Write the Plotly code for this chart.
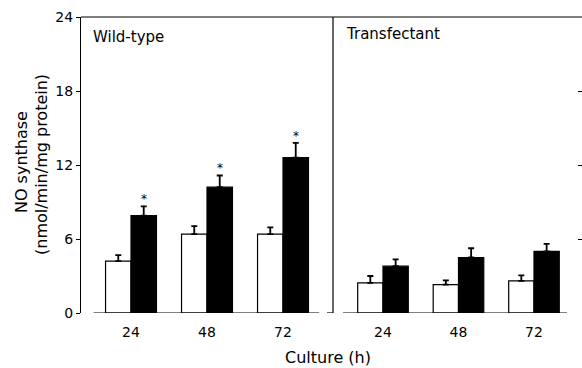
import plotly.graph_objects as go

# Culture time points (h) and NO synthase activity (nmol/min/mg protein)
hours = ["24", "48", "72"]
wt_control = [4.2, 6.4, 6.4]
wt_control_err = [0.5, 0.65, 0.55]
wt_treated = [7.9, 10.2, 12.6]
wt_treated_err = [0.75, 0.95, 1.2]
tf_control = [2.45, 2.3, 2.6]
tf_control_err = [0.55, 0.35, 0.45]
tf_treated = [3.8, 4.5, 5.0]
tf_treated_err = [0.55, 0.75, 0.6]
y_ticks = [0, 6, 12, 18, 24]

FONT = "DejaVu Sans"
pos = list(range(len(hours)))

fig = go.Figure()


def add_pair(ctrl, ctrl_err, trt, trt_err, xa):
    fig.add_trace(go.Bar(
        x=pos, y=ctrl, xaxis=xa, yaxis="y",
        marker=dict(color="white", line=dict(color="black", width=1.2)),
        error_y=dict(type="data", symmetric=False, array=ctrl_err,
                     arrayminus=[0] * len(ctrl), color="black",
                     thickness=1.8, width=3),
        showlegend=False,
    ))
    fig.add_trace(go.Bar(
        x=pos, y=trt, xaxis=xa, yaxis="y",
        marker=dict(color="black", line=dict(color="black", width=1.2)),
        error_y=dict(type="data", symmetric=False, array=trt_err,
                     arrayminus=[0] * len(trt), color="black",
                     thickness=1.8, width=3),
        showlegend=False,
    ))


add_pair(wt_control, wt_control_err, wt_treated, wt_treated_err, "x")
add_pair(tf_control, tf_control_err, tf_treated, tf_treated_err, "x2")

split = 0.503
common_x = dict(
    tickmode="array", tickvals=pos, ticktext=hours,
    showline=False, showgrid=False, zeroline=False, ticks="",
    ticklabelstandoff=9,
    tickfont=dict(family=FONT, size=14, color="black"),
    fixedrange=True,
)
fig.update_layout(
    width=582, height=368,
    margin=dict(l=81, r=0, t=17, b=55),
    paper_bgcolor="white", plot_bgcolor="white",
    barmode="group", bargap=0.33, bargroupgap=0.0,
    font=dict(family=FONT, color="black"),
    xaxis=dict(domain=[0, split], range=[-0.658, 2.658], anchor="y", **common_x),
    xaxis2=dict(domain=[split, 1], range=[-0.662, 2.636], anchor="y", **common_x),
    yaxis=dict(
        range=[0, 24], tickvals=y_ticks, ticks="outside", ticklen=4,
        tickwidth=1.2, tickcolor="black", showline=True, linecolor="black",
        linewidth=1.2, showgrid=False, zeroline=False,
        tickfont=dict(family=FONT, size=14, color="black"), fixedrange=True,
    ),
    yaxis2=dict(
        range=[0, 24], tickvals=y_ticks, ticks="inside", ticklen=4,
        tickwidth=1.2, tickcolor="black", showline=False, showgrid=False,
        zeroline=False, showticklabels=False, overlaying="y", side="right",
        anchor="free", position=1.0, fixedrange=True,
    ),
)
# empty trace so the right-hand tick axis is drawn
fig.add_trace(go.Scatter(x=[None], y=[None], xaxis="x2", yaxis="y2",
                         showlegend=False, hoverinfo="skip"))

# frame: top edge, divider between panels, broken baselines
line = dict(color="black", width=1.2)
fig.add_shape(type="line", xref="paper", yref="paper", x0=0, x1=1, y0=1, y1=1, line=line)
fig.add_shape(type="line", xref="paper", yref="paper", x0=split, x1=split, y0=0, y1=1, line=line)
fig.add_shape(type="line", xref="x domain", yref="y", x0=0.05, x1=0.945, y0=0, y1=0, line=line)
fig.add_shape(type="line", xref="x domain", yref="y", x0=0.976, x1=1.0, y0=0, y1=0, line=line)
fig.add_shape(type="line", xref="x2 domain", yref="y", x0=0.04, x1=0.94, y0=0, y1=0, line=line)

# significance markers above treated wild-type bars
for i, (v, e) in enumerate(zip(wt_treated, wt_treated_err)):
    fig.add_annotation(x=i + 0.168, y=v + e, xref="x", yref="y", text="*",
                       showarrow=False, yanchor="bottom", yshift=-2,
                       font=dict(family=FONT, size=12, color="black"))

ann_font = dict(family=FONT, size=15, color="black")
fig.add_annotation(x=0.02, y=0.932, xref="paper", yref="paper", text="Wild-type",
                   showarrow=False, xanchor="left", yanchor="middle", font=ann_font)
fig.add_annotation(x=0.525, y=0.941, xref="paper", yref="paper", text="Transfectant",
                   showarrow=False, xanchor="left", yanchor="middle", font=ann_font)
fig.add_annotation(x=0.493, y=-0.152, xref="paper", yref="paper", text="Culture (h)",
                   showarrow=False, xanchor="center", yanchor="middle",
                   font=dict(family=FONT, size=16, color="black"))
fig.add_annotation(x=-60 / 501, y=0.51, xref="paper", yref="paper", text="NO synthase",
                   textangle=-90, showarrow=False, xanchor="center", yanchor="middle",
                   font=dict(family=FONT, size=16, color="black"))
fig.add_annotation(x=-40 / 501, y=0.5, xref="paper", yref="paper",
                   text="(nmol/min/mg protein)",
                   textangle=-90, showarrow=False, xanchor="center", yanchor="middle",
                   font=dict(family=FONT, size=16, color="black"))

fig.write_html("out.html")
